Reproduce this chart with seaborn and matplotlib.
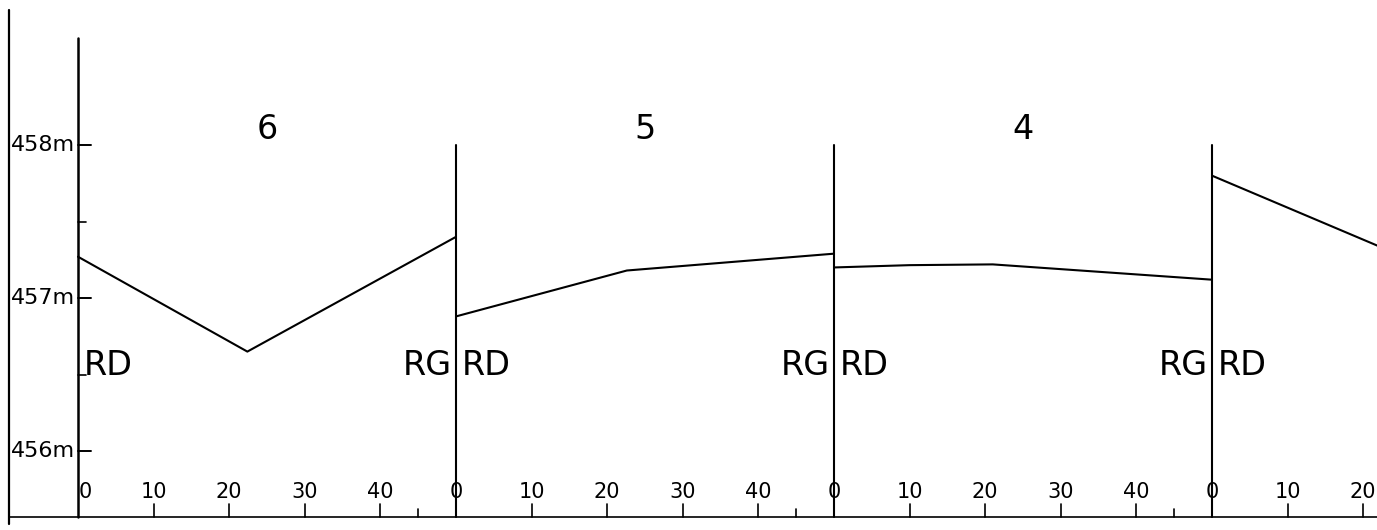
import numpy as np
import pandas as pd
import matplotlib
matplotlib.use("Agg")
import matplotlib.pyplot as plt
import seaborn as sns

# ---------------- data ----------------
section_names = ["6", "5", "4", "3"]
section_offsets = [0, 50, 100, 150]

dist_6 = [0, 22.4, 50]
elev_6 = [457.27, 456.65, 457.40]
dist_5 = [0, 22.6, 50]
elev_5 = [456.88, 457.18, 457.29]
dist_4 = [0, 10, 21, 50]
elev_4 = [457.20, 457.215, 457.22, 457.12]
dist_3 = [0, 22]
elev_3 = [457.80, 457.34]

elev_ticks = [456, 457, 458]
elev_tick_labels = ["456m", "457m", "458m"]
elev_minor = [456.5, 457.5]
dist_ticks = [0, 10, 20, 30, 40]
dist_tick_labels = ["0", "10", "20", "30", "40"]
section3_ticks = [0, 10, 20]
section3_labels = ["0", "10", "20"]
bank_left = "RD"
bank_right = "RG"

# ---------------- build table ----------------
rows = []
for name, off, d, e in zip(section_names, section_offsets,
                           [dist_6, dist_5, dist_4, dist_3],
                           [elev_6, elev_5, elev_4, elev_3]):
    for di, ei in zip(d, e):
        rows.append({"section": name, "x": off + di, "z": ei})
df = pd.DataFrame(rows)

sns.set_theme(style="white")
plt.rcParams["font.family"] = ["DejaVu Sans"]

fig = plt.figure(figsize=(13.77, 5.30), dpi=100)
ax = fig.add_axes([0, 0, 1, 1])
ax.set_xlim(-10.32, 171.83)
ax.set_ylim(455.484, 458.948)
ax.axis("off")

base = 455.57
k = "black"

# profiles
sns.lineplot(data=df, x="x", y="z", units="section", estimator=None,
             color=k, lw=1.5, ax=ax, legend=False, sort=False)

# frame / axes lines
ax.plot([-9.13, -9.13], [458.88, base - 0.05], color=k, lw=1.6)
ax.plot([0, 0], [458.70, base], color=k, lw=1.8)
for off in section_offsets[1:]:
    ax.plot([off, off], [458.0, base], color=k, lw=1.5)
ax.plot([-9.13, 171.83], [base, base], color=k, lw=1.2)

# elevation ticks
for t, lab in zip(elev_ticks, elev_tick_labels):
    ax.plot([0, 1.7], [t, t], color=k, lw=1.4)
    ax.text(-0.4, t, lab, ha="right", va="center", fontsize=16, color=k)
for t in elev_minor:
    ax.plot([0, 1.0], [t, t], color=k, lw=1.2)

# distance ticks per section
lab_y = 455.73
for i, off in enumerate(section_offsets):
    if i < 3:
        ticks, labs = dist_ticks, dist_tick_labels
    else:
        ticks, labs = section3_ticks, section3_labels
    for t, lab in zip(ticks, labs):
        if t > 0:
            ax.plot([off + t, off + t], [base, base + 0.085], color=k, lw=1.2)
        xl = off + t
        if i == 0 and t == 0:
            xl = 0.9
        ax.text(xl, lab_y, lab, ha="center", va="center", fontsize=15, color=k)
    if i < 3:
        ax.plot([off + 45, off + 45], [base, base + 0.05], color=k, lw=1.2)

# section numbers
for name, off in zip(section_names[:3], section_offsets[:3]):
    ax.text(off + 25, 458.10, name, ha="center", va="center", fontsize=24, color=k)

# bank labels
for i, off in enumerate(section_offsets):
    ax.text(off + 0.7, 456.56, bank_left, ha="left", va="center", fontsize=24, color=k)
    if i < 3:
        ax.text(off + 50 - 0.6, 456.56, bank_right, ha="right", va="center",
                fontsize=24, color=k)

fig.savefig("out.png", dpi=100, facecolor="white")
